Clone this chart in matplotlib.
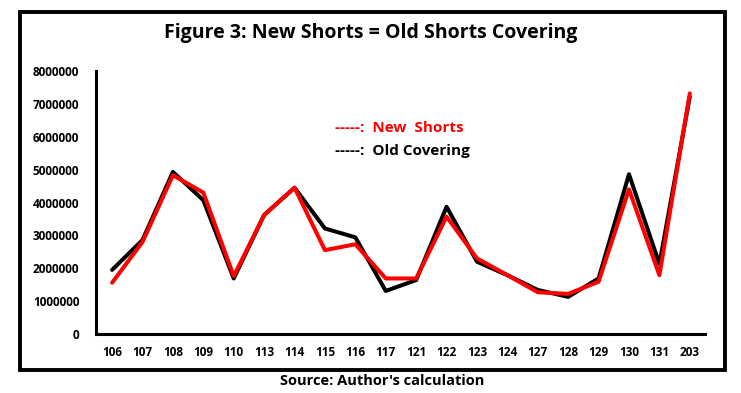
import matplotlib.pyplot as plt
import matplotlib.patches as patch

plt.rcParams['font.family'] = ['Open Sans', 'DejaVu Sans']

categories = ['106', '107', '108', '109', '110', '113', '114', '115', '116', '117',
              '121', '122', '123', '124', '127', '128', '129', '130', '131', '203']
old_covering = [1950000, 2860000, 4930000, 4070000, 1690000, 3620000, 4450000, 3210000,
                2940000, 1310000, 1640000, 3870000, 2200000, 1790000, 1340000, 1130000,
                1690000, 4860000, 2130000, 7220000]
new_shorts = [1560000, 2800000, 4830000, 4300000, 1760000, 3620000, 4450000, 2550000,
              2730000, 1690000, 1690000, 3570000, 2300000, 1790000, 1270000, 1220000,
              1590000, 4400000, 1790000, 7320000]
y_ticks = [0, 1000000, 2000000, 3000000, 4000000, 5000000, 6000000, 7000000, 8000000]

fig = plt.figure(figsize=(7.41, 3.93), dpi=100)
W, H = 741, 393

# outer frame
frame = patch.Rectangle((20 / W, 1 - 370 / H), 705 / W, 358 / H, transform=fig.transFigure,
                        fill=False, edgecolor='black', linewidth=2.8)
fig.patches.append(frame)

ax = fig.add_axes([96 / W, 1 - 334 / H, 609 / W, 263 / H])
x = range(len(categories))
ax.plot(x, old_covering, color='black', linewidth=2.9,
        solid_joinstyle='round', solid_capstyle='round')
ax.plot(x, new_shorts, color='#ff0000', linewidth=2.9,
        solid_joinstyle='round', solid_capstyle='round')

ax.set_xlim(-0.53, len(categories) - 0.5)
ax.set_ylim(0, 8000000)
ax.set_xticks(list(x))
ax.set_xticklabels(categories, fontsize=8.5, fontweight='bold')
ax.set_yticks(y_ticks)
ax.set_yticklabels([str(v) for v in y_ticks], fontsize=8.5, fontweight='bold')
ax.tick_params(length=0, pad=9)
ax.tick_params(axis='y', pad=12)
for s in ['top', 'right']:
    ax.spines[s].set_visible(False)
for s in ['left', 'bottom']:
    ax.spines[s].set_linewidth(2.2)

fig.text(371 / W, 1 - 33 / H, 'Figure 3: New Shorts = Old Shorts Covering',
         ha='center', va='center', fontsize=14, fontweight='bold')
fig.text(335 / W, 1 - 128 / H, '-----:  New  Shorts', color='#ff0000',
         ha='left', va='center', fontsize=11, fontweight='bold')
fig.text(335 / W, 1 - 151 / H, '-----:  Old Covering', color='black',
         ha='left', va='center', fontsize=11, fontweight='bold')
fig.text(382 / W, 1 - 381 / H, "Source: Author's calculation",
         ha='center', va='center', fontsize=10.5, fontweight='bold')

fig.savefig('out.png', dpi=100)
